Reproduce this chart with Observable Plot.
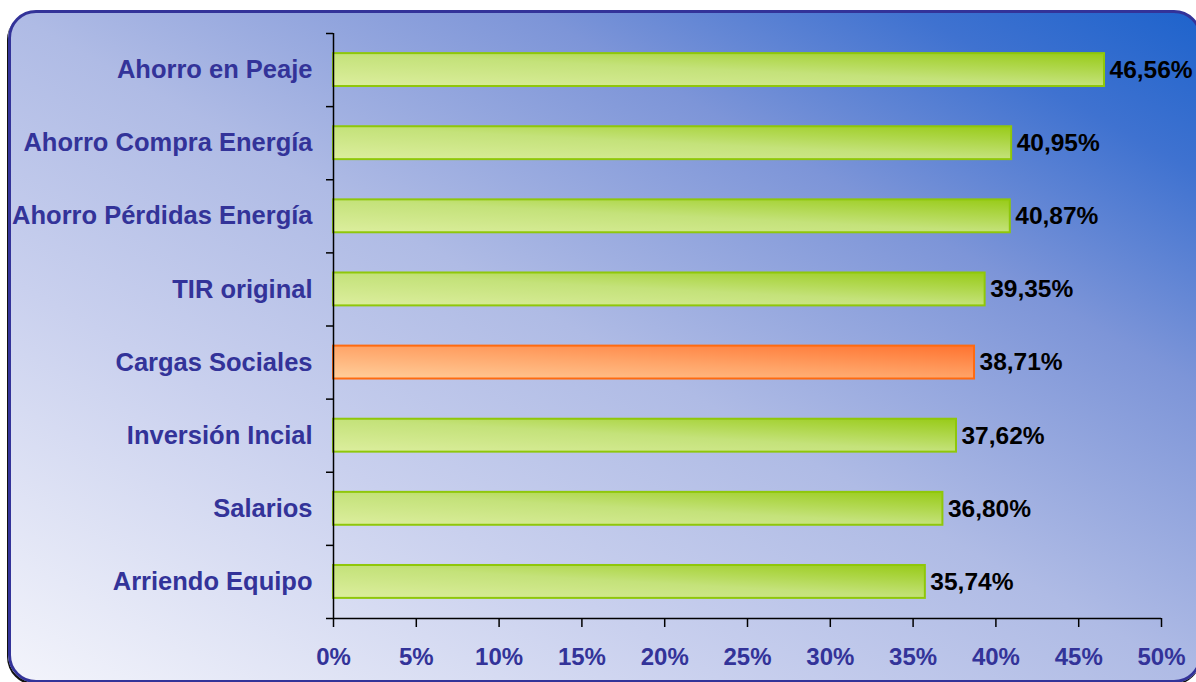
<!DOCTYPE html>
<html>
<head>
<meta charset="utf-8">
<script src="https://cdn.jsdelivr.net/npm/d3@7"></script>
<script src="https://cdn.jsdelivr.net/npm/@observablehq/plot@0.6"></script>
<style>
  html, body { margin: 0; padding: 0; background: #ffffff; overflow: hidden; }
  #wrap { position: relative; width: 1196px; height: 682px; overflow: hidden; }
  #frame {
    position: absolute; left: 8px; top: 10px; width: 1188px; height: 667px;
    border: 3px solid #333399; border-radius: 28px;
    background: linear-gradient(to top right, #f3f4fb 0%, #c9d0ee 30%, #afbbe5 50%, #7d95d8 72%, #3f72d0 88%, #1e63cc 100%);
    box-shadow: -1px 2px 0 #111;
  }
  #chart { position: absolute; left: 0; top: 0; }
</style>
</head>
<body>
<div id="wrap"><div id="frame"></div><div id="chart"></div></div>
<script>
const categories = ["Ahorro en Peaje", "Ahorro Compra Energía", "Ahorro Pérdidas Energía", "TIR original", "Cargas Sociales", "Inversión Incial", "Salarios", "Arriendo Equipo"];
const values = [46.56, 40.95, 40.87, 39.35, 38.71, 37.62, 36.80, 35.74];
const highlighted = ["Cargas Sociales"];
const xTicks = [0, 5, 10, 15, 20, 25, 30, 35, 40, 45, 50];

const data = categories.map((c, i) => ({
  name: c, i, value: values[i],
  label: values[i].toFixed(2).replace(".", ",") + "%",
  hi: highlighted.includes(c)
}));

const inset = 0.275;
const font = "'Liberation Sans', Arial, sans-serif";

const plot = Plot.plot({
  width: 1196,
  height: 682,
  marginLeft: 333,
  marginRight: 35,
  marginTop: 33,
  marginBottom: 64,
  style: { background: "transparent", fontFamily: font, fontWeight: "bold", fontSize: "24px", overflow: "visible" },
  x: { domain: [0, 50] },
  y: { domain: [0, categories.length], reverse: true },
  marks: [
    Plot.rectX(data.filter(d => !d.hi), { x1: 0, x2: "value", y1: d => d.i + inset, y2: d => d.i + 1 - inset, fill: "url(#gGreen)", stroke: "#8fc70a", strokeWidth: 2 }),
    Plot.rectX(data.filter(d => d.hi), { x1: 0, x2: "value", y1: d => d.i + inset, y2: d => d.i + 1 - inset, fill: "url(#gOrange)", stroke: "#ff6a10", strokeWidth: 2 }),
    Plot.text(data, { x: "value", y: d => d.i + 0.5, text: "label", textAnchor: "start", dx: 5, fill: "#000", fontSize: 24.5, fontWeight: "bold" }),
    Plot.ruleX([0], { y1: 0, y2: categories.length, stroke: "#000", strokeWidth: 1.5 }),
    Plot.ruleY([categories.length], { x1: 0, x2: 50, stroke: "#000", strokeWidth: 1.5 }),
    Plot.axisY({ ticks: d3.range(0, categories.length + 1), tickSize: 7, tickFormat: () => "", stroke: "#000", strokeWidth: 1.5, label: null }),
    Plot.axisY({ ticks: categories.map((_, i) => i + 0.5), tickSize: 0, tickPadding: 21, tickFormat: v => categories[Math.floor(v)], fill: "#333399", label: null, fontSize: 25.5 }),
    Plot.axisX({ ticks: xTicks, tickSize: 9, tickPadding: 20, tickFormat: d => d + "%", stroke: "#000", strokeWidth: 1.5, fill: "#333399", label: null, fontSize: 24 })
  ]
});

const ns = "http://www.w3.org/2000/svg";
const defs = document.createElementNS(ns, "defs");
function grad(id, light, mid, dark) {
  const g = document.createElementNS(ns, "linearGradient");
  g.setAttribute("id", id);
  g.setAttribute("x1", "0"); g.setAttribute("y1", "1");
  g.setAttribute("x2", "1"); g.setAttribute("y2", "0");
  [[0, light], [0.5, mid], [1, dark]].forEach(([o, c]) => {
    const s = document.createElementNS(ns, "stop");
    s.setAttribute("offset", o); s.setAttribute("stop-color", c);
    g.appendChild(s);
  });
  defs.appendChild(g);
}
grad("gGreen", "#dcee9e", "#c4e27a", "#98cb18");
grad("gOrange", "#ffcf9c", "#ffa468", "#ff7330");
plot.insertBefore(defs, plot.firstChild);

document.getElementById("chart").appendChild(plot);
</script>
</body>
</html>
